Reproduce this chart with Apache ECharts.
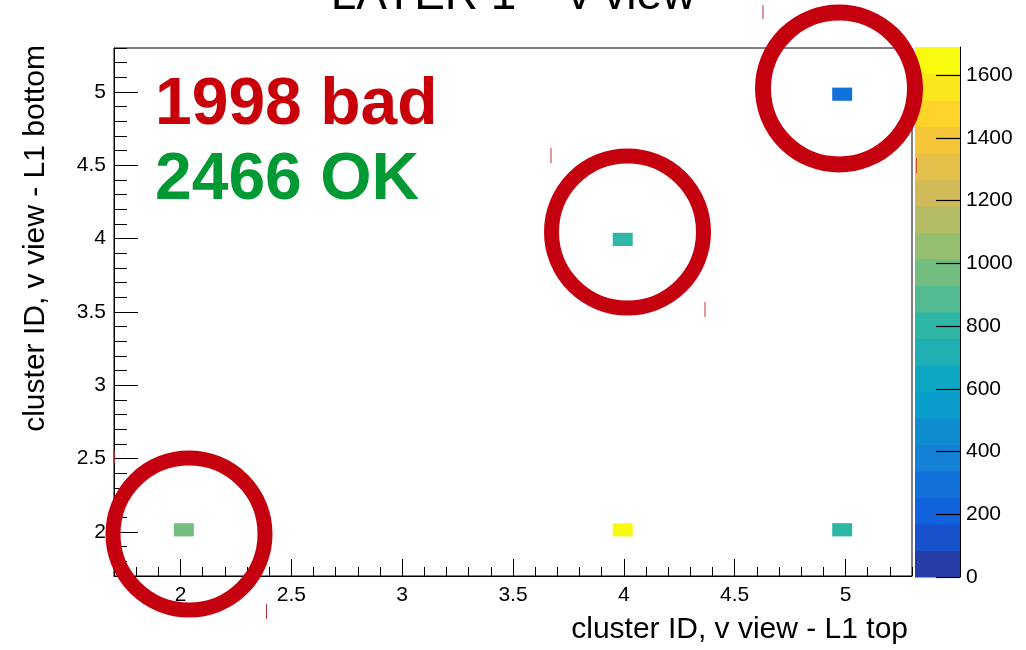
<!DOCTYPE html>
<html>
<head>
<meta charset="utf-8">
<script src="https://cdn.jsdelivr.net/npm/echarts@6/dist/echarts.min.js"></script>
<style>
html,body{margin:0;padding:0;background:#fff;}
#main{width:1026px;height:650px;}
</style>
</head>
<body>
<div id="main"></div>
<script>
// ---- data ----
const cellX = [2, 4, 5, 4, 5];
const cellY = [2, 2, 2, 4, 5];
const cellZ = [970, 1690, 800, 810, 300];
const xTickLabels = [2, 2.5, 3, 3.5, 4, 4.5, 5];
const yTickLabels = [2, 2.5, 3, 3.5, 4, 4.5, 5];
const zTickLabels = [0, 200, 400, 600, 800, 1000, 1200, 1400, 1600];
const titleText = 'LAYER 1 \u2013 v view';
const xTitle = 'cluster ID, v view - L1 top';
const yTitle = 'cluster ID, v view - L1 bottom';
const noteBad = '1998 bad';
const noteOk = '2466 OK';

// ---- histogram binning / palette settings ----
const axMin = 1.7, axMax = 5.3, binW = 0.09;
const zMax = Math.max.apply(null, cellZ);
const nContours = 20;
const birdStops = [0.0, 0.125, 0.25, 0.375, 0.5, 0.625, 0.75, 0.875, 1.0];
const birdR = [0.2082, 0.0592, 0.0780, 0.0232, 0.1802, 0.5301, 0.8186, 0.9956, 0.9764];
const birdG = [0.1664, 0.3599, 0.5041, 0.6419, 0.7178, 0.7492, 0.7328, 0.7862, 0.9832];
const birdB = [0.5293, 0.8684, 0.8385, 0.7914, 0.6425, 0.4662, 0.3499, 0.1968, 0.0539];

function bird(f) {
  let k = 0;
  while (k < birdStops.length - 2 && f > birdStops[k + 1]) k++;
  const t = (f - birdStops[k]) / (birdStops[k + 1] - birdStops[k]);
  const c = a => Math.round(255 * (a[k] + (a[k + 1] - a[k]) * t));
  return 'rgb(' + c(birdR) + ',' + c(birdG) + ',' + c(birdB) + ')';
}
const pieces = [];
const bandData = [];
for (let i = 0; i < nContours; i++) {
  const lo = zMax * i / nContours, hi = zMax * (i + 1) / nContours;
  const f = Math.floor((i + 0.99) * 255 / nContours) / 254;
  const p = { gte: lo, color: bird(f) };
  if (i < nContours - 1) p.lt = hi; else p.lte = hi;
  pieces.push(p);
  bandData.push([lo, hi, (lo + hi) / 2]);
}
const cells = cellX.map((x, i) => [x, cellY[i], cellZ[i]]);
const binLow = v => axMin + Math.floor((v - axMin) / binW + 1e-9) * binW;

const FONT = '"Liberation Sans", Arial, sans-serif';
const RED = '#c5000e';

const chart = echarts.init(document.getElementById('main'), null, { renderer: 'canvas' });

const axisLineStyle = { show: true, onZero: false, lineStyle: { color: '#000', width: 1 } };
const labelStyle = { color: '#000', fontSize: 21, fontFamily: FONT };

const option = {
  animation: false,
  backgroundColor: '#fff',
  textStyle: { fontFamily: FONT },
  title: {
    text: titleText, left: 'center', top: -32,
    textStyle: { fontSize: 46, fontWeight: 'normal', color: '#000', fontFamily: FONT }
  },
  grid: [
    { left: 114, top: 48, width: 798, height: 528, show: true, borderColor: '#000', borderWidth: 1, backgroundColor: '#fff' },
    { left: 915, top: 47, width: 45, height: 530, show: false }
  ],
  xAxis: [
    { gridIndex: 0, type: 'value', position: 'bottom', min: axMin, max: axMax, interval: 0.1,
      axisLine: axisLineStyle, axisTick: { show: true, inside: true, length: 9, lineStyle: { color: '#000' } },
      axisLabel: { show: false }, splitLine: { show: false } },
    { gridIndex: 0, type: 'value', position: 'bottom', min: axMin, max: axMax,
      axisLine: { show: false, onZero: false },
      axisTick: { show: true, inside: true, length: 17, customValues: xTickLabels, lineStyle: { color: '#000' } },
      axisLabel: Object.assign({ show: true, margin: 9, customValues: xTickLabels, formatter: v => String(v) }, labelStyle),
      splitLine: { show: false },
      name: xTitle, nameLocation: 'end', nameGap: -4, nameMoveOverlap: false,
      nameTextStyle: { fontSize: 30, color: '#000', fontFamily: FONT, align: 'right', verticalAlign: 'top', padding: [39, 0, 0, 0] } },
    { gridIndex: 1, type: 'value', min: 0, max: 1, show: false }
  ],
  yAxis: [
    { gridIndex: 0, type: 'value', position: 'left', min: axMin, max: axMax, interval: 0.1,
      axisLine: axisLineStyle, axisTick: { show: true, inside: true, length: 13, lineStyle: { color: '#000' } },
      axisLabel: { show: false }, splitLine: { show: false } },
    { gridIndex: 0, type: 'value', position: 'left', min: axMin, max: axMax,
      axisLine: { show: false, onZero: false },
      axisTick: { show: true, inside: true, length: 24, customValues: yTickLabels, lineStyle: { color: '#000' } },
      axisLabel: Object.assign({ show: true, margin: 8, customValues: yTickLabels, formatter: v => String(v) }, labelStyle),
      splitLine: { show: false },
      name: yTitle, nameLocation: 'end', nameGap: 3, nameRotate: 90, nameMoveOverlap: false,
      nameTextStyle: { fontSize: 30, color: '#000', fontFamily: FONT, align: 'right', verticalAlign: 'bottom', padding: [0, 0, 63, 0] } },
    { gridIndex: 1, type: 'value', position: 'right', min: 0, max: zMax, z: 10,
      axisLine: axisLineStyle,
      axisTick: { show: true, inside: true, length: 24, customValues: zTickLabels, lineStyle: { color: '#000', width: 1.2 } },
      axisLabel: Object.assign({ show: true, margin: 6, customValues: zTickLabels, formatter: v => String(v) }, labelStyle),
      splitLine: { show: false } }
  ],
  visualMap: {
    type: 'piecewise', show: false, dimension: 2, seriesIndex: [0, 1], pieces: pieces
  },
  series: [
    { type: 'custom', name: 'hits', xAxisIndex: 0, yAxisIndex: 0, data: cells, encode: { x: 0, y: 1 }, z: 5,
      renderItem: function (params, api) {
        const x0 = binLow(api.value(0)), y0 = binLow(api.value(1));
        const a = api.coord([x0, y0 + binW]);
        const b = api.coord([x0 + binW, y0]);
        return { type: 'rect', shape: { x: a[0], y: a[1], width: b[0] - a[0], height: b[1] - a[1] },
          style: { fill: api.visual('color') } };
      } },
    { type: 'custom', name: 'palette', xAxisIndex: 2, yAxisIndex: 2, data: bandData, encode: { y: [0, 1] }, z: 1,
      renderItem: function (params, api) {
        const a = api.coord([0, api.value(1)]);
        const b = api.coord([1, api.value(0)]);
        return { type: 'rect', shape: { x: a[0], y: a[1], width: b[0] - a[0], height: b[1] - a[1] + 0.5 },
          style: { fill: api.visual('color') } };
      } }
  ],
  graphic: [
    { type: 'text', z: 100, style: { text: noteBad, x: 155, y: 106, font: 'bold 66px ' + FONT, fill: '#c8000a', textVerticalAlign: 'middle' } },
    { type: 'text', z: 100, style: { text: noteOk, x: 155, y: 181, font: 'bold 66px ' + FONT, fill: '#009933', textVerticalAlign: 'middle' } },
    { type: 'circle', z: 100, shape: { cx: 839, cy: 88.5, r: 76 }, style: { fill: 'none', stroke: RED, lineWidth: 16 } },
    { type: 'circle', z: 100, shape: { cx: 627.5, cy: 232, r: 76 }, style: { fill: 'none', stroke: RED, lineWidth: 15 } },
    { type: 'circle', z: 100, shape: { cx: 189, cy: 534, r: 76 }, style: { fill: 'none', stroke: RED, lineWidth: 15 } },
    { type: 'line', z: 100, shape: { x1: 763, y1: 5, x2: 763, y2: 19 }, style: { stroke: '#c0303a', lineWidth: 1 } },
    { type: 'line', z: 100, shape: { x1: 551, y1: 148, x2: 551, y2: 163 }, style: { stroke: '#c0303a', lineWidth: 1 } },
    { type: 'line', z: 100, shape: { x1: 705, y1: 302, x2: 705, y2: 317 }, style: { stroke: '#c0303a', lineWidth: 1 } },
    { type: 'line', z: 100, shape: { x1: 266.5, y1: 604, x2: 266.5, y2: 619 }, style: { stroke: '#c0303a', lineWidth: 1 } },
    { type: 'line', z: 100, shape: { x1: 916.5, y1: 158, x2: 916.5, y2: 173 }, style: { stroke: '#d05020', lineWidth: 1 } },
    { type: 'line', z: 100, shape: { x1: 114, y1: 450, x2: 114, y2: 463 }, style: { stroke: '#c0303a', lineWidth: 1.5 } }
  ]
};
chart.setOption(option);
</script>
</body>
</html>
